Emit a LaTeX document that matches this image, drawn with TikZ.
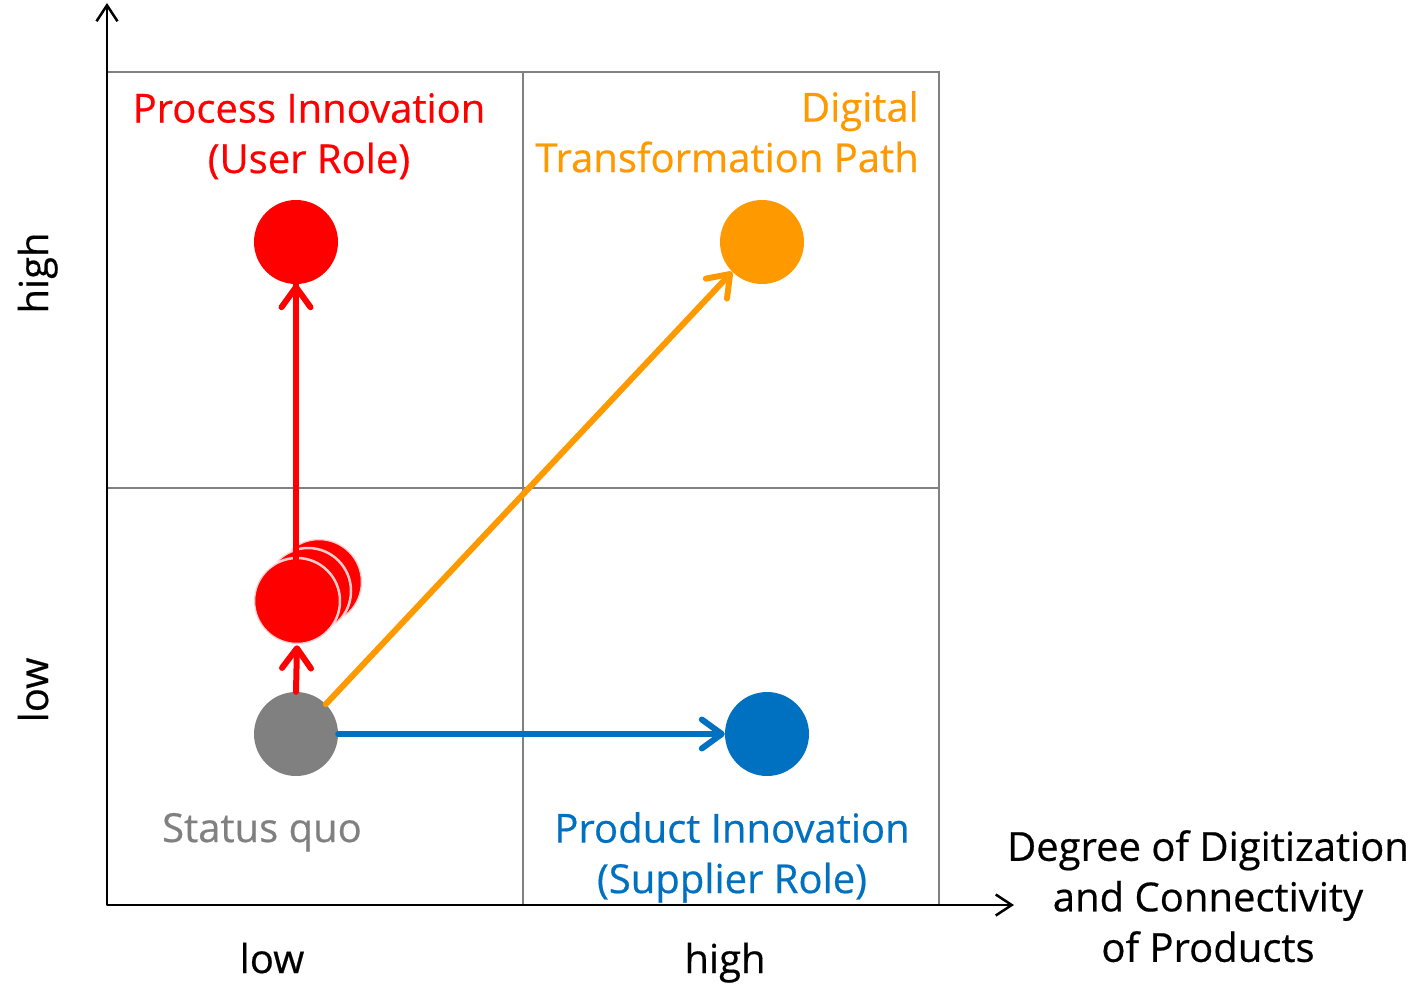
\documentclass[tikz,border=0pt]{standalone}
\usepackage{fontspec}
\setmainfont{Open Sans}[FakeBold=0.5]
\usetikzlibrary{arrows.meta}
\definecolor{pred}{HTML}{FF0000}
\definecolor{porange}{HTML}{FF9900}
\definecolor{pblue}{HTML}{0070C0}
\definecolor{pgray}{HTML}{808080}
\tikzset{
  axis/.style={line width=2.5pt, -{Straight Barb[length=16pt,width=21pt,line width=2.5pt]}},
  grid/.style={line width=2pt, draw=pgray},
  dot/.style={circle, minimum size=84pt, inner sep=0pt},
  stackdot/.style={circle, minimum size=86pt, inner sep=0pt, fill=pred, draw=white, draw opacity=0.8, line width=2.5pt},
  path arrow/.style={line width=6pt, line cap=round, -{Straight Barb[length=20pt,width=29pt,line width=6pt,round]}},
  lbl/.style={font=\fontsize{40}{50.5}\selectfont, inner sep=0pt, align=center},
}
\begin{document}
\begin{tikzpicture}[x=1pt,y=-1pt]
\useasboundingbox (0,0) rectangle (1420,984);
% quadrant grid
\draw[grid] (107,72) rectangle (939,905);
\draw[grid] (523,72) -- (523,905);
\draw[grid] (107,488) -- (939,488);
% axes
\coordinate (o) at (107,905);
\coordinate (ytop) at (107,3);
\coordinate (xend) at (1014,905);
\draw[axis] (o) -- (ytop);
\draw[axis] (o) -- (xend);
% points of the matrix
\node[dot, fill=pgray] (sq) at (296,734) {};
\node[dot, fill=pblue] (prod) at (767,734) {};
\node[dot, fill=porange] (dig) at (762,242) {};
\node[dot, fill=pred] (proc) at (296,242) {};
\draw[line width=6pt, pred] (296,600) -- (proc.south);
% stacked intermediate steps
\node[stackdot] (st3) at (319,582) {};
\node[stackdot] (st2) at (308,591) {};
\node[stackdot] (st1) at (297,601) {};
% paths between them
\draw[path arrow, pred] (sq.north) -- (st1.south);
\draw[path arrow, pred] (296,560) -- (proc.south);
\draw[path arrow, porange] (sq.45) -- (dig.225);
\draw[path arrow, pblue] (sq.east) -- (prod.west);
% labels
\node[lbl, text=pred, anchor=north] (tproc) at (309,93) {Process Innovation\\(User Role)};
\node[lbl, text=porange, anchor=north east, align=right] (tdig) at (919,91) {Digital\\Transformation Path};
\node[lbl, text=pgray, anchor=base] (tsq) at (262,842) {Status quo};
\node[lbl, text=pblue, anchor=north] (tprod) at (732,812) {Product Innovation\\(Supplier Role)};
\node[lbl, text=black, anchor=north] (tx) at (1208,830) {Degree of Digitization\\and Connectivity\\of Products};
\node[lbl, anchor=base] (xl) at (272,973) {low};
\node[lbl, anchor=base] (xh) at (725,973) {high};
\node[lbl, rotate=90, anchor=base] (yh) at (48,273) {high};
\node[lbl, rotate=90, anchor=base] (yl) at (48,690) {low};
\end{tikzpicture}
\end{document}
